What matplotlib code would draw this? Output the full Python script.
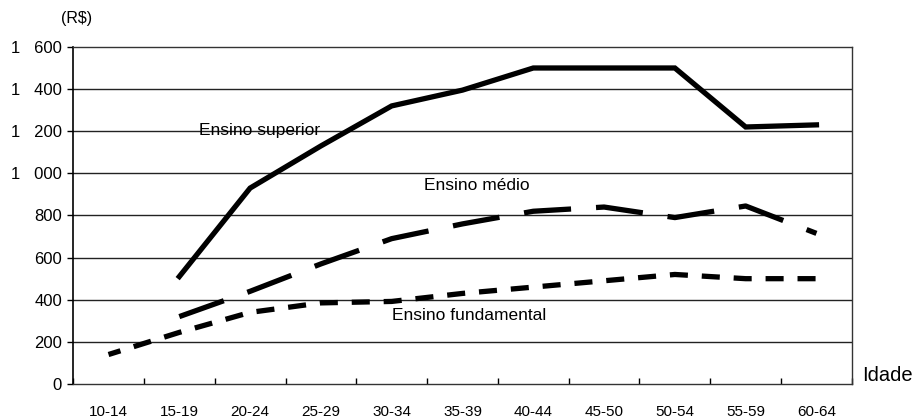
import matplotlib.pyplot as plt
from matplotlib import rcParams

rcParams['font.family'] = ['Liberation Sans', 'DejaVu Sans']
rcParams['lines.scale_dashes'] = False

# age groups (x categories)
idades = ['10-14', '15-19', '20-24', '25-29', '30-34', '35-39',
          '40-44', '45-50', '50-54', '55-59', '60-64']

# monthly income (R$) per schooling level, None = no value
superior = [None, 510, 930, 1130, 1320, 1395, 1500, 1500, 1500, 1220, 1230]
medio = [None, 320, 440, 570, 690, 760, 820, 840, 790, 845, 715]
fundamental = [140, 245, 340, 385, 392, 430, 460, 490, 520, 500, 500]

y_ticks = [0, 200, 400, 600, 800, 1000, 1200, 1400, 1600]
y_labels = ['0', '200', '400', '600', '800', '1   000', '1   200', '1   400', '1   600']

fig = plt.figure(figsize=(9.14, 4.19), dpi=100)
ax = fig.add_axes([0.080, 0.0835, 0.852, 0.8045])

x = list(range(len(idades)))


def series(vals):
    xs = [i for i, v in zip(x, vals) if v is not None]
    ys = [v for v in vals if v is not None]
    return xs, ys


# horizontal grid
for yv in y_ticks[1:-1]:
    ax.axhline(yv, color='#222222', lw=1.0, zorder=1)

xs, ys = series(superior)
ax.plot(xs, ys, color='black', lw=3.8, solid_joinstyle='miter', zorder=3)
xs, ys = series(medio)
ax.plot(xs, ys, color='black', lw=3.8, linestyle=(0, (34, 18)),
        dash_capstyle='butt', zorder=3)
xs, ys = series(fundamental)
ax.plot(xs, ys, color='black', lw=3.8, linestyle=(4, (13, 10)),
        dash_capstyle='butt', zorder=3)

ax.text(2.14, 1205, 'Ensino superior', fontsize=12.5, ha='center', va='center')
ax.text(5.2, 940, 'Ensino médio', fontsize=12.5, ha='center', va='center')
ax.text(5.1, 323, 'Ensino fundamental', fontsize=12.5, ha='center', va='center')

ax.set_xlim(-0.5, len(idades) - 0.5)
ax.set_ylim(0, 1600)

ax.set_yticks(y_ticks)
ax.set_yticklabels(y_labels, fontsize=12)
ax.set_xticks([i - 0.5 for i in range(len(idades) + 1)])
ax.set_xticklabels([])
ax.set_xticks(x, minor=True)
ax.set_xticklabels(idades, minor=True, fontsize=11)
ax.tick_params(axis='x', which='minor', length=0, pad=15)
ax.tick_params(axis='x', which='major', length=4, direction='in', width=1)
ax.tick_params(axis='y', length=4, direction='out', width=1, pad=4)

ax.spines['left'].set_linewidth(1.2)
for side in ['top', 'right', 'bottom']:
    ax.spines[side].set_linestyle((0, (1, 1)))
    ax.spines[side].set_linewidth(1.0)
    ax.spines[side].set_color('#333333')

fig.text(61 / 914, 1 - 18 / 419, '(R$)', fontsize=11.5, ha='left', va='center')
fig.text(862 / 914, 1 - 375 / 419, 'Idade', fontsize=14.5, ha='left', va='center')

fig.savefig('out.png', dpi=100)
